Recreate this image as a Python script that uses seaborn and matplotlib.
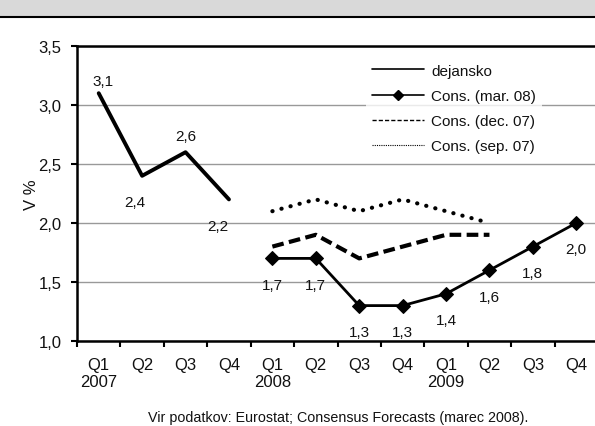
import numpy as np
import pandas as pd
import seaborn as sns
import matplotlib.pyplot as plt
from matplotlib.lines import Line2D
from matplotlib.patches import Rectangle

# Quarters Q1 2007 .. Q4 2009
quarters = ["Q1\n2007", "Q2", "Q3", "Q4", "Q1\n2008", "Q2", "Q3", "Q4",
            "Q1\n2009", "Q2", "Q3", "Q4"]

# actual values (2007)
dejansko_x = [0, 1, 2, 3]
dejansko = [3.1, 2.4, 2.6, 2.2]

# Consensus forecasts
mar08_x = [4, 5, 6, 7, 8, 9, 10, 11]
mar08 = [1.7, 1.7, 1.3, 1.3, 1.4, 1.6, 1.8, 2.0]
dec07_x = [4, 5, 6, 7, 8, 9]
dec07 = [1.8, 1.9, 1.7, 1.8, 1.9, 1.9]
sep07_x = [4, 5, 6, 7, 8, 9]
sep07 = [2.1, 2.2, 2.1, 2.2, 2.1, 2.0]

sns.set_theme(style="white")
plt.rcParams['font.family'] = ['Liberation Sans', 'DejaVu Sans']

fig = plt.figure(figsize=(5.95, 4.27), dpi=100)
W, H = 595, 427
ax = fig.add_axes([77 / W, (H - 342) / H, 521 / W, 295 / H])

# grey band at the top
fig.patches.append(Rectangle((0, 1 - 17 / H), 1, 17 / H, transform=fig.transFigure,
                             facecolor="#d9d9d9", edgecolor="none", zorder=0))
fig.add_artist(Line2D([0, 1], [1 - 17.5 / H, 1 - 17.5 / H], transform=fig.transFigure,
                      color="black", lw=1.5))

# lines
sns.lineplot(x=sep07_x, y=sep07, ax=ax, color="black", lw=3.0,
             linestyle=(0, (0.05, 2.2)), dash_capstyle="round")
sns.lineplot(x=dec07_x, y=dec07, ax=ax, color="black", lw=3.0,
             linestyle=(0, (2.8, 1.3)), dash_capstyle="butt")
sns.lineplot(x=mar08_x, y=mar08, ax=ax, color="black", lw=2.0,
             marker="D", markersize=7, markeredgecolor="black")
sns.lineplot(x=dejansko_x, y=dejansko, ax=ax, color="black", lw=2.8,
             solid_capstyle="round")


def fmt(v):
    return f"{v:.1f}".replace(".", ",")


# data labels for actual values
lbl_off = [(3, 9), (-5, -19), (0, 12), (-8, -19)]
for x, v, off in zip(dejansko_x, dejansko, lbl_off):
    ax.annotate(fmt(v), (x, v), xytext=off, textcoords="offset points",
                ha="center", va="center", fontsize=11, color="#111111")
for x, v in zip(mar08_x, mar08):
    ax.annotate(fmt(v), (x, v), xytext=(0, -19), textcoords="offset points",
                ha="center", va="center", fontsize=11, color="#111111")

ax.set_xlim(-0.5, 11.5)
ax.set_ylim(1.0, 3.5)
ax.set_yticks([1.0, 1.5, 2.0, 2.5, 3.0, 3.5])
ax.set_yticklabels([fmt(v) for v in [1.0, 1.5, 2.0, 2.5, 3.0, 3.5]])
ax.set_xticks(range(12))
ax.set_xticklabels(quarters, linespacing=1.15)
ax.set_xticks(np.arange(-0.5, 12, 1), minor=True)
ax.tick_params(axis="x", which="major", length=0, pad=11.5, labelsize=12, labelcolor="#111111")
ax.tick_params(axis="x", which="minor", length=4, width=1.5, direction="out",
               bottom=True, color="black")
ax.tick_params(axis="y", length=4, width=1.5, direction="out", left=True,
               pad=7, labelsize=12, labelcolor="#111111", color="black")

ax.yaxis.grid(True, color="#999999", lw=1.0)
ax.set_axisbelow(True)
for s in ["left", "bottom", "top"]:
    ax.spines[s].set_color("black")
    ax.spines[s].set_linewidth(1.8)
ax.spines["right"].set_visible(False)

ax.set_ylabel("V %", fontsize=12, color="#111111", labelpad=0)
ax.set_xlabel("")

handles = [
    Line2D([], [], color="black", lw=1.2),
    Line2D([], [], color="black", lw=1.2, marker="D", markersize=5),
    Line2D([], [], color="black", lw=1.0, linestyle=(0, (3, 1.5))),
    Line2D([], [], color="black", lw=0.8, linestyle=(0, (1, 1))),
]
labels = ["dejansko", "Cons. (mar. 08)", "Cons. (dec. 07)", "Cons. (sep. 07)"]
leg = ax.legend(handles, labels, loc="upper left",
                bbox_to_anchor=(358 / W, 1 - 51 / H), bbox_transform=fig.transFigure,
                frameon=True, fontsize=11, handlelength=3.4, handletextpad=0.5,
                labelspacing=0.73, borderpad=0.4, fancybox=False)
leg.get_frame().set_facecolor("white")
leg.get_frame().set_edgecolor("none")
for t in leg.get_texts():
    t.set_color("#111111")

fig.text(338 / W, 1 - 418 / H,
         "Vir podatkov: Eurostat; Consensus Forecasts (marec 2008).",
         ha="center", va="center", fontsize=10.3, color="#111111")

fig.savefig("out.png", dpi=100)
